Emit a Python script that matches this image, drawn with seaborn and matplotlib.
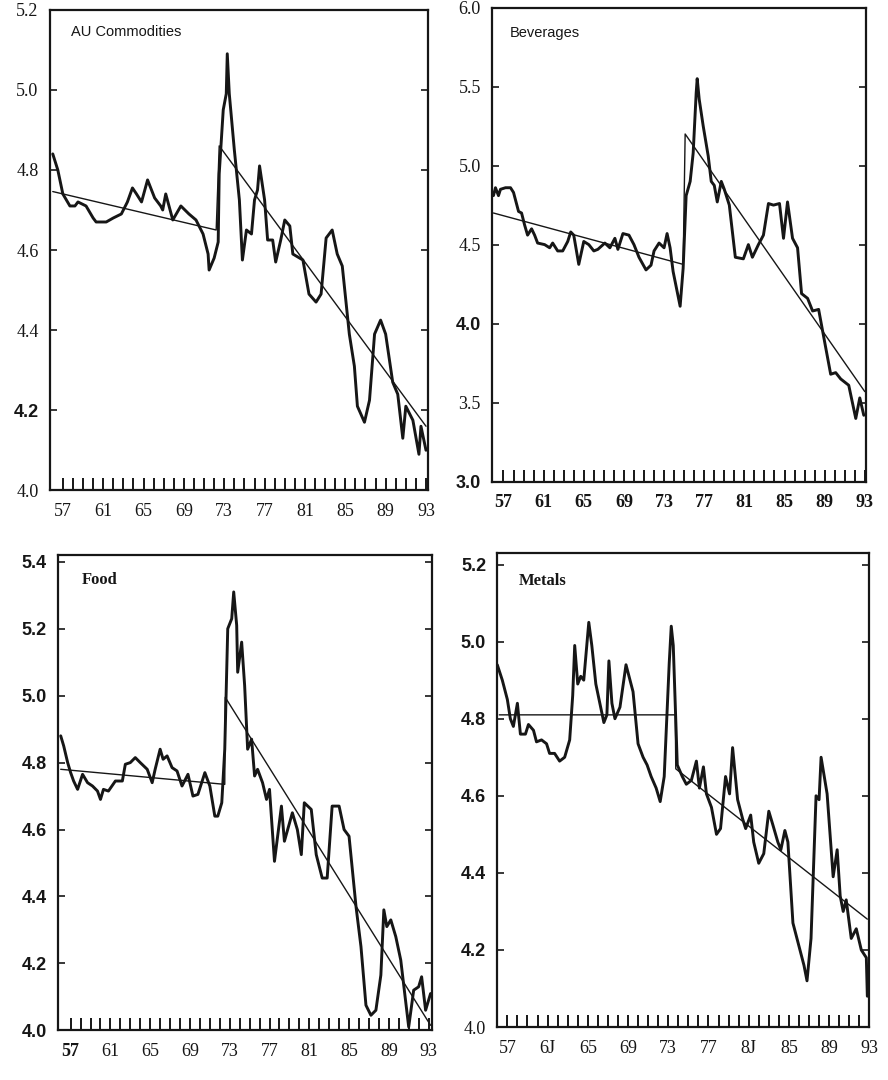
import numpy as np
import pandas as pd
import matplotlib
matplotlib.use('Agg')
import matplotlib.pyplot as plt
import seaborn as sns
from matplotlib.ticker import FixedLocator

# ---- All commodities (log real price index) ----
all_years = [56.0, 56.5, 57.0, 57.7, 58.2, 58.5, 59.3, 60.0, 60.3, 61.3, 62.0, 62.8, 63.4, 63.9,
             64.3, 64.8, 65.4, 66.1, 66.7, 66.9, 67.2, 67.9, 68.7, 69.5, 70.2, 70.9, 71.4, 71.5,
             72.0, 72.4, 72.5, 72.9, 73.2, 73.3, 73.5, 74.0, 74.5, 74.8, 75.2, 75.7, 76.0, 76.3,
             76.5, 77.0, 77.3, 77.8, 78.1, 78.6, 79.0, 79.5, 79.8, 80.8, 81.4, 82.1, 82.6, 83.1,
             83.7, 84.2, 84.7, 85.4, 85.9, 86.2, 86.9, 87.4, 87.9, 88.5, 89.0, 89.7, 90.2, 90.7,
             91.0, 91.7, 92.3, 92.5, 93.0]
all_vals = [4.84, 4.80, 4.74, 4.71, 4.71, 4.72, 4.71, 4.68, 4.67, 4.67, 4.68, 4.69, 4.72, 4.755,
            4.74, 4.72, 4.775, 4.73, 4.71, 4.70, 4.74, 4.675, 4.71, 4.69, 4.675, 4.64, 4.59, 4.55,
            4.58, 4.62, 4.79, 4.95, 4.99, 5.09, 4.99, 4.85, 4.725, 4.575, 4.65, 4.64, 4.725, 4.75,
            4.81, 4.725, 4.625, 4.625, 4.57, 4.625, 4.675, 4.66, 4.59, 4.575, 4.49, 4.47, 4.49, 4.63,
            4.65, 4.59, 4.56, 4.39, 4.31, 4.21, 4.17, 4.225, 4.39, 4.425, 4.39, 4.27, 4.24, 4.13,
            4.21, 4.175, 4.09, 4.16, 4.10]
all_trend_years = [56.0, 72.2, 72.5, 93.0]
all_trend_vals = [4.746, 4.65, 4.86, 4.16]

# ---- Beverages ----
bev_years = [56.0, 56.2, 56.5, 56.7, 57.2, 57.7, 58.0, 58.5, 58.8, 59.1, 59.4, 59.8, 60.1, 60.4,
             61.1, 61.6, 61.9, 62.4, 62.9, 63.4, 63.7, 64.0, 64.5, 65.0, 65.5, 66.0, 66.4, 67.1,
             67.6, 68.1, 68.4, 68.9, 69.5, 70.0, 70.5, 71.2, 71.7, 72.0, 72.5, 73.0, 73.3, 73.6,
             73.9, 74.6, 74.9, 75.2, 75.6, 75.9, 76.2, 76.3, 76.5, 76.9, 77.4, 77.7, 78.0, 78.3,
             78.7, 79.0, 79.5, 80.1, 80.9, 81.4, 81.8, 82.4, 82.9, 83.4, 83.9, 84.5, 84.9, 85.3,
             85.8, 86.3, 86.7, 87.3, 87.8, 88.4, 89.1, 89.6, 90.1, 90.6, 91.4, 92.1, 92.5, 92.9]
bev_vals = [4.81, 4.86, 4.81, 4.85, 4.86, 4.86, 4.83, 4.71, 4.70, 4.625, 4.56, 4.60, 4.56, 4.51,
            4.50, 4.48, 4.51, 4.46, 4.46, 4.52, 4.58, 4.56, 4.375, 4.52, 4.50, 4.46, 4.47, 4.51,
            4.48, 4.54, 4.47, 4.57, 4.56, 4.50, 4.42, 4.34, 4.37, 4.46, 4.51, 4.48, 4.57, 4.48,
            4.33, 4.11, 4.35, 4.81, 4.90, 5.08, 5.46, 5.55, 5.42, 5.25, 5.06, 4.90, 4.875, 4.77,
            4.90, 4.85, 4.75, 4.42, 4.41, 4.50, 4.42, 4.50, 4.56, 4.76, 4.75, 4.76, 4.54, 4.77,
            4.54, 4.48, 4.19, 4.16, 4.08, 4.09, 3.85, 3.68, 3.69, 3.65, 3.61, 3.40, 3.53, 3.42]
bev_trend_years = [56.0, 74.9, 75.1, 93.0]
bev_trend_vals = [4.70, 4.375, 5.20, 3.57]

# ---- Food ----
food_years = [56.0, 56.3, 56.7, 57.0, 57.3, 57.7, 58.2, 58.7, 59.2, 59.7, 60.0, 60.3, 60.8, 61.5,
              62.2, 62.5, 63.0, 63.5, 64.0, 64.7, 65.2, 65.5, 66.0, 66.3, 66.7, 67.2, 67.7, 68.2,
              68.8, 69.3, 69.8, 70.5, 71.0, 71.5, 71.8, 72.2, 72.5, 72.8, 73.2, 73.4, 73.7, 73.8,
              74.2, 74.5, 74.8, 75.2, 75.5, 75.8, 76.3, 76.7, 77.0, 77.5, 78.2, 78.5, 79.3, 79.8,
              80.2, 80.5, 81.2, 81.7, 82.3, 82.8, 83.3, 84.0, 84.5, 85.0, 85.7, 86.2, 86.7, 87.2,
              87.7, 88.2, 88.5, 88.8, 89.2, 89.7, 90.2, 91.0, 91.5, 92.0, 92.3, 92.7, 93.2]
food_vals = [4.88, 4.85, 4.80, 4.77, 4.745, 4.72, 4.765, 4.74, 4.73, 4.715, 4.69, 4.72, 4.715, 4.745,
             4.745, 4.795, 4.80, 4.815, 4.80, 4.78, 4.74, 4.78, 4.84, 4.81, 4.82, 4.785, 4.775, 4.73,
             4.765, 4.70, 4.705, 4.77, 4.73, 4.64, 4.64, 4.68, 4.84, 5.20, 5.23, 5.31, 5.21, 5.07,
             5.16, 5.03, 4.84, 4.87, 4.76, 4.78, 4.74, 4.69, 4.72, 4.505, 4.67, 4.565, 4.65, 4.60,
             4.525, 4.68, 4.66, 4.525, 4.455, 4.455, 4.67, 4.67, 4.60, 4.58, 4.37, 4.25, 4.075, 4.045,
             4.06, 4.165, 4.36, 4.31, 4.33, 4.28, 4.21, 4.01, 4.12, 4.13, 4.16, 4.06, 4.11]
food_trend_years = [56.0, 72.5, 72.55, 93.2]
food_trend_vals = [4.78, 4.735, 4.995, 4.015]

# ---- Metals ----
met_years = [56.0, 56.5, 57.0, 57.3, 57.6, 57.8, 58.0, 58.3, 58.8, 59.1, 59.6, 59.9, 60.4, 60.9,
             61.2, 61.7, 62.2, 62.7, 63.2, 63.5, 63.7, 64.0, 64.3, 64.6, 64.9, 65.1, 65.4, 65.8,
             66.2, 66.6, 66.9, 67.1, 67.4, 67.7, 68.2, 68.8, 69.5, 70.0, 70.5, 70.9, 71.3, 71.8,
             72.2, 72.6, 73.1, 73.3, 73.5, 73.9, 74.4, 74.8, 75.3, 75.8, 76.1, 76.5, 76.8, 77.3,
             77.8, 78.2, 78.7, 79.1, 79.4, 79.9, 80.4, 80.7, 81.2, 81.5, 82.0, 82.5, 83.0, 83.4,
             83.9, 84.2, 84.6, 84.9, 85.4, 86.0, 86.5, 86.8, 87.2, 87.7, 88.0, 88.2, 88.8, 89.4,
             89.8, 90.1, 90.4, 90.7, 91.2, 91.7, 92.2, 92.7, 92.8]
met_vals = [4.94, 4.90, 4.85, 4.80, 4.78, 4.81, 4.84, 4.76, 4.76, 4.785, 4.77, 4.74, 4.745, 4.735,
            4.71, 4.71, 4.69, 4.70, 4.745, 4.86, 4.99, 4.89, 4.91, 4.90, 4.99, 5.05, 4.99, 4.89,
            4.84, 4.79, 4.81, 4.95, 4.84, 4.80, 4.83, 4.94, 4.87, 4.735, 4.70, 4.68, 4.65, 4.62,
            4.585, 4.65, 4.945, 5.04, 4.99, 4.68, 4.65, 4.63, 4.64, 4.69, 4.62, 4.675, 4.605, 4.57,
            4.50, 4.515, 4.65, 4.605, 4.725, 4.59, 4.54, 4.515, 4.55, 4.48, 4.425, 4.45, 4.56, 4.525,
            4.48, 4.46, 4.51, 4.48, 4.27, 4.21, 4.16, 4.12, 4.23, 4.60, 4.59, 4.70, 4.605, 4.39,
            4.46, 4.34, 4.30, 4.33, 4.23, 4.255, 4.20, 4.18, 4.08]
met_trend_years = [56.2, 73.7, 73.75, 92.8]
met_trend_vals = [4.81, 4.81, 4.67, 4.28]

year_ticks = [57, 61, 65, 69, 73, 77, 81, 85, 89, 93]
year_labels = ['57', '61', '65', '69', '73', '77', '81', '85', '89', '93']
met_year_labels = ['57', '6J', '65', '69', '73', '77', '8J', '85', '89', '93']
minor_years = list(range(57, 94))

sns.set_style('white')
plt.rcParams['font.family'] = ['Liberation Serif', 'DejaVu Serif']

INK = '#161616'

panels = [
    dict(name='AU Commodities', years=all_years, vals=all_vals, ty=all_trend_years, tv=all_trend_vals,
         rect=[0.056, 0.546, 0.426, 0.445], xlim=(55.7, 93.2), ylim=(4.0, 5.2),
         yticks=[4.0, 4.2, 4.4, 4.6, 4.8, 5.0, 5.2], xlabels=year_labels,
         title_font=dict(family='Liberation Sans', fontsize=10.5), tpos=(0.055, 0.954),
         ybold=['4.2'], xbold=[]),
    dict(name='Beverages', years=bev_years, vals=bev_vals, ty=bev_trend_years, tv=bev_trend_vals,
         rect=[0.554, 0.554, 0.421, 0.439], xlim=(55.85, 93.1), ylim=(3.0, 6.0),
         yticks=[3.0, 3.5, 4.0, 4.5, 5.0, 5.5, 6.0], xlabels=year_labels,
         title_font=dict(family='Liberation Sans', fontsize=10.5), tpos=(0.048, 0.947),
         ybold=['4.0', '3.0'], xbold=year_labels),
    dict(name='Food', years=food_years, vals=food_vals, ty=food_trend_years, tv=food_trend_vals,
         rect=[0.065, 0.046, 0.421, 0.440], xlim=(55.7, 93.3), ylim=(4.0, 5.42),
         yticks=[4.0, 4.2, 4.4, 4.6, 4.8, 5.0, 5.2, 5.4], xlabels=year_labels,
         title_font=dict(family='Liberation Serif', fontsize=12, fontweight='bold'), tpos=(0.064, 0.947),
         ybold=['4.0', '4.2', '4.4', '4.6', '4.8', '5.0', '5.2', '5.4'], xbold=['57']),
    dict(name='Metals', years=met_years, vals=met_vals, ty=met_trend_years, tv=met_trend_vals,
         rect=[0.560, 0.049, 0.419, 0.439], xlim=(56.0, 93.0), ylim=(4.0, 5.23),
         yticks=[4.0, 4.2, 4.4, 4.6, 4.8, 5.0, 5.2], xlabels=met_year_labels,
         title_font=dict(family='Liberation Serif', fontsize=12, fontweight='bold'), tpos=(0.059, 0.941),
         ybold=['4.2', '4.4', '4.6', '4.8', '5.0', '5.2'], xbold=[]),
]

fig = plt.figure(figsize=(8.88, 10.8), dpi=100)

for p in panels:
    ax = fig.add_axes(p['rect'])
    df = pd.DataFrame({'year': p['years'], 'value': p['vals']})
    sns.lineplot(data=df, x='year', y='value', ax=ax, color=INK, linewidth=2.1,
                 sort=False, estimator=None)
    tr = pd.DataFrame({'year': p['ty'], 'value': p['tv']})
    sns.lineplot(data=tr, x='year', y='value', ax=ax, color=INK, linewidth=1.0,
                 sort=False, estimator=None)

    ax.set_xlim(*p['xlim'])
    ax.set_ylim(*p['ylim'])
    ax.set_xlabel('')
    ax.set_ylabel('')

    ax.set_xticks(year_ticks)
    ax.set_xticklabels(p['xlabels'])
    ax.xaxis.set_minor_locator(FixedLocator([y for y in minor_years if y not in year_ticks]))
    ax.set_yticks(p['yticks'])
    ax.set_yticklabels(['%.1f' % v for v in p['yticks']])

    ax.tick_params(axis='x', which='both', direction='in', length=9, width=1.4,
                   colors=INK, top=False, bottom=True, pad=9, labelsize=13)
    ax.tick_params(axis='y', which='major', direction='in', length=5, width=1.2,
                   colors=INK, left=True, right=True, pad=8, labelsize=13)

    for lab in ax.get_yticklabels():
        if lab.get_text() in p['ybold']:
            lab.set_fontweight('bold')
            lab.set_family(['Liberation Sans', 'DejaVu Sans'])
    for lab in ax.get_xticklabels():
        if lab.get_text() in p['xbold']:
            lab.set_fontweight('bold')

    for s in ax.spines.values():
        s.set_visible(True)
        s.set_color(INK)
        s.set_linewidth(1.6)

    ax.text(p['tpos'][0], p['tpos'][1], p['name'], transform=ax.transAxes,
            ha='left', va='center', color=INK, **p['title_font'])

fig.savefig('out.png', dpi=100, facecolor='white')
